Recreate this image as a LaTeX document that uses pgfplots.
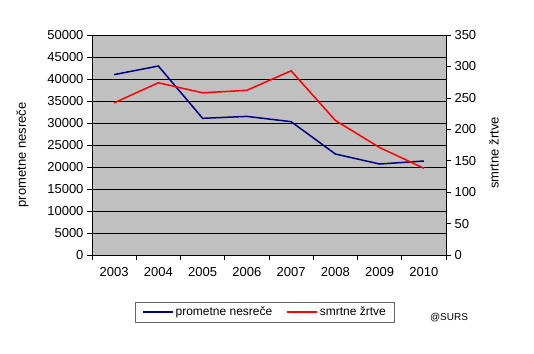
\documentclass[border=0pt]{standalone}
\usepackage{pgfplots}
\pgfplotsset{compat=1.18}
\usepackage{fontspec}
\setmainfont{Liberation Sans}
\definecolor{bg}{RGB}{192,192,192}
\definecolor{navy}{RGB}{0,0,128}
\definecolor{myred}{RGB}{255,0,0}
\begin{document}
\begin{tikzpicture}
\path[use as bounding box] (0,0) rectangle (534pt,353pt);
\pgfplotsset{
  common/.style={
    at={(92pt,98pt)}, anchor=south west,
    scale only axis, width=354pt, height=220pt,
    xmin=-0.5, xmax=7.5,
    tick align=outside,
    major tick length=5pt, minor tick length=5pt,
    /pgf/number format/assume math mode=true,
    ticklabel style={font=\fontsize{13}{15}\selectfont},
    label style={font=\fontsize{13}{15}\selectfont},
    scaled y ticks=false,
    yticklabel style={/pgf/number format/1000 sep={}},
    tick style={black, line width=0.6pt},
    axis line style={black, line width=0.8pt},
  }
}
\begin{axis}[common,
  axis x line*=bottom, axis y line*=left,
  ymin=0, ymax=50000,
  ytick={0,5000,...,50000},
  ymajorgrids, grid style={black, line width=0.8pt},
  axis background/.style={fill=bg},
  xtick={0,...,7},
  xticklabels={2003,2004,2005,2006,2007,2008,2009,2010},
  major x tick style={draw=none},
  minor xtick={-0.5,0.5,...,7.5},
  xticklabel style={yshift=-4pt},
  ylabel={prometne nesreče},
  ylabel style={yshift=12pt, xshift=-10pt},
]
\addplot[navy, line width=1.5pt] coordinates {
 (0,41000) (1,42950) (2,31060) (3,31500) (4,30300) (5,22950) (6,20680) (7,21360)};
\end{axis}
\begin{axis}[common,
  axis x line=none, axis y line*=right,
  ymin=0, ymax=350,
  ytick={0,50,...,350},
  ylabel={smrtne žrtve},
  ylabel style={rotate=0, yshift=-6pt, xshift=-8pt},
  legend columns=2,
  legend style={at={(0.1206,-0.212)}, anchor=north west, draw=black!60, line width=0.8pt,
    fill=white, font=\fontsize{12}{14}\selectfont,
    inner xsep=7pt, inner ysep=3pt,
    /tikz/every even column/.append style={column sep=12pt}},
  legend image code/.code={\draw[#1] (0pt,0pt) -- (30pt,0pt);},
]
\addlegendimage{navy, line width=1.5pt}
\addlegendentry{prometne nesreče}
\addplot[myred, line width=1.5pt] coordinates {
 (0,242) (1,274) (2,258) (3,262) (4,293) (5,214) (6,171) (7,138)};
\addlegendentry{smrtne žrtve}
\end{axis}
\node[font=\fontsize{10}{12}\selectfont] at (449pt,35pt) {@SURS};
\end{tikzpicture}
\end{document}
